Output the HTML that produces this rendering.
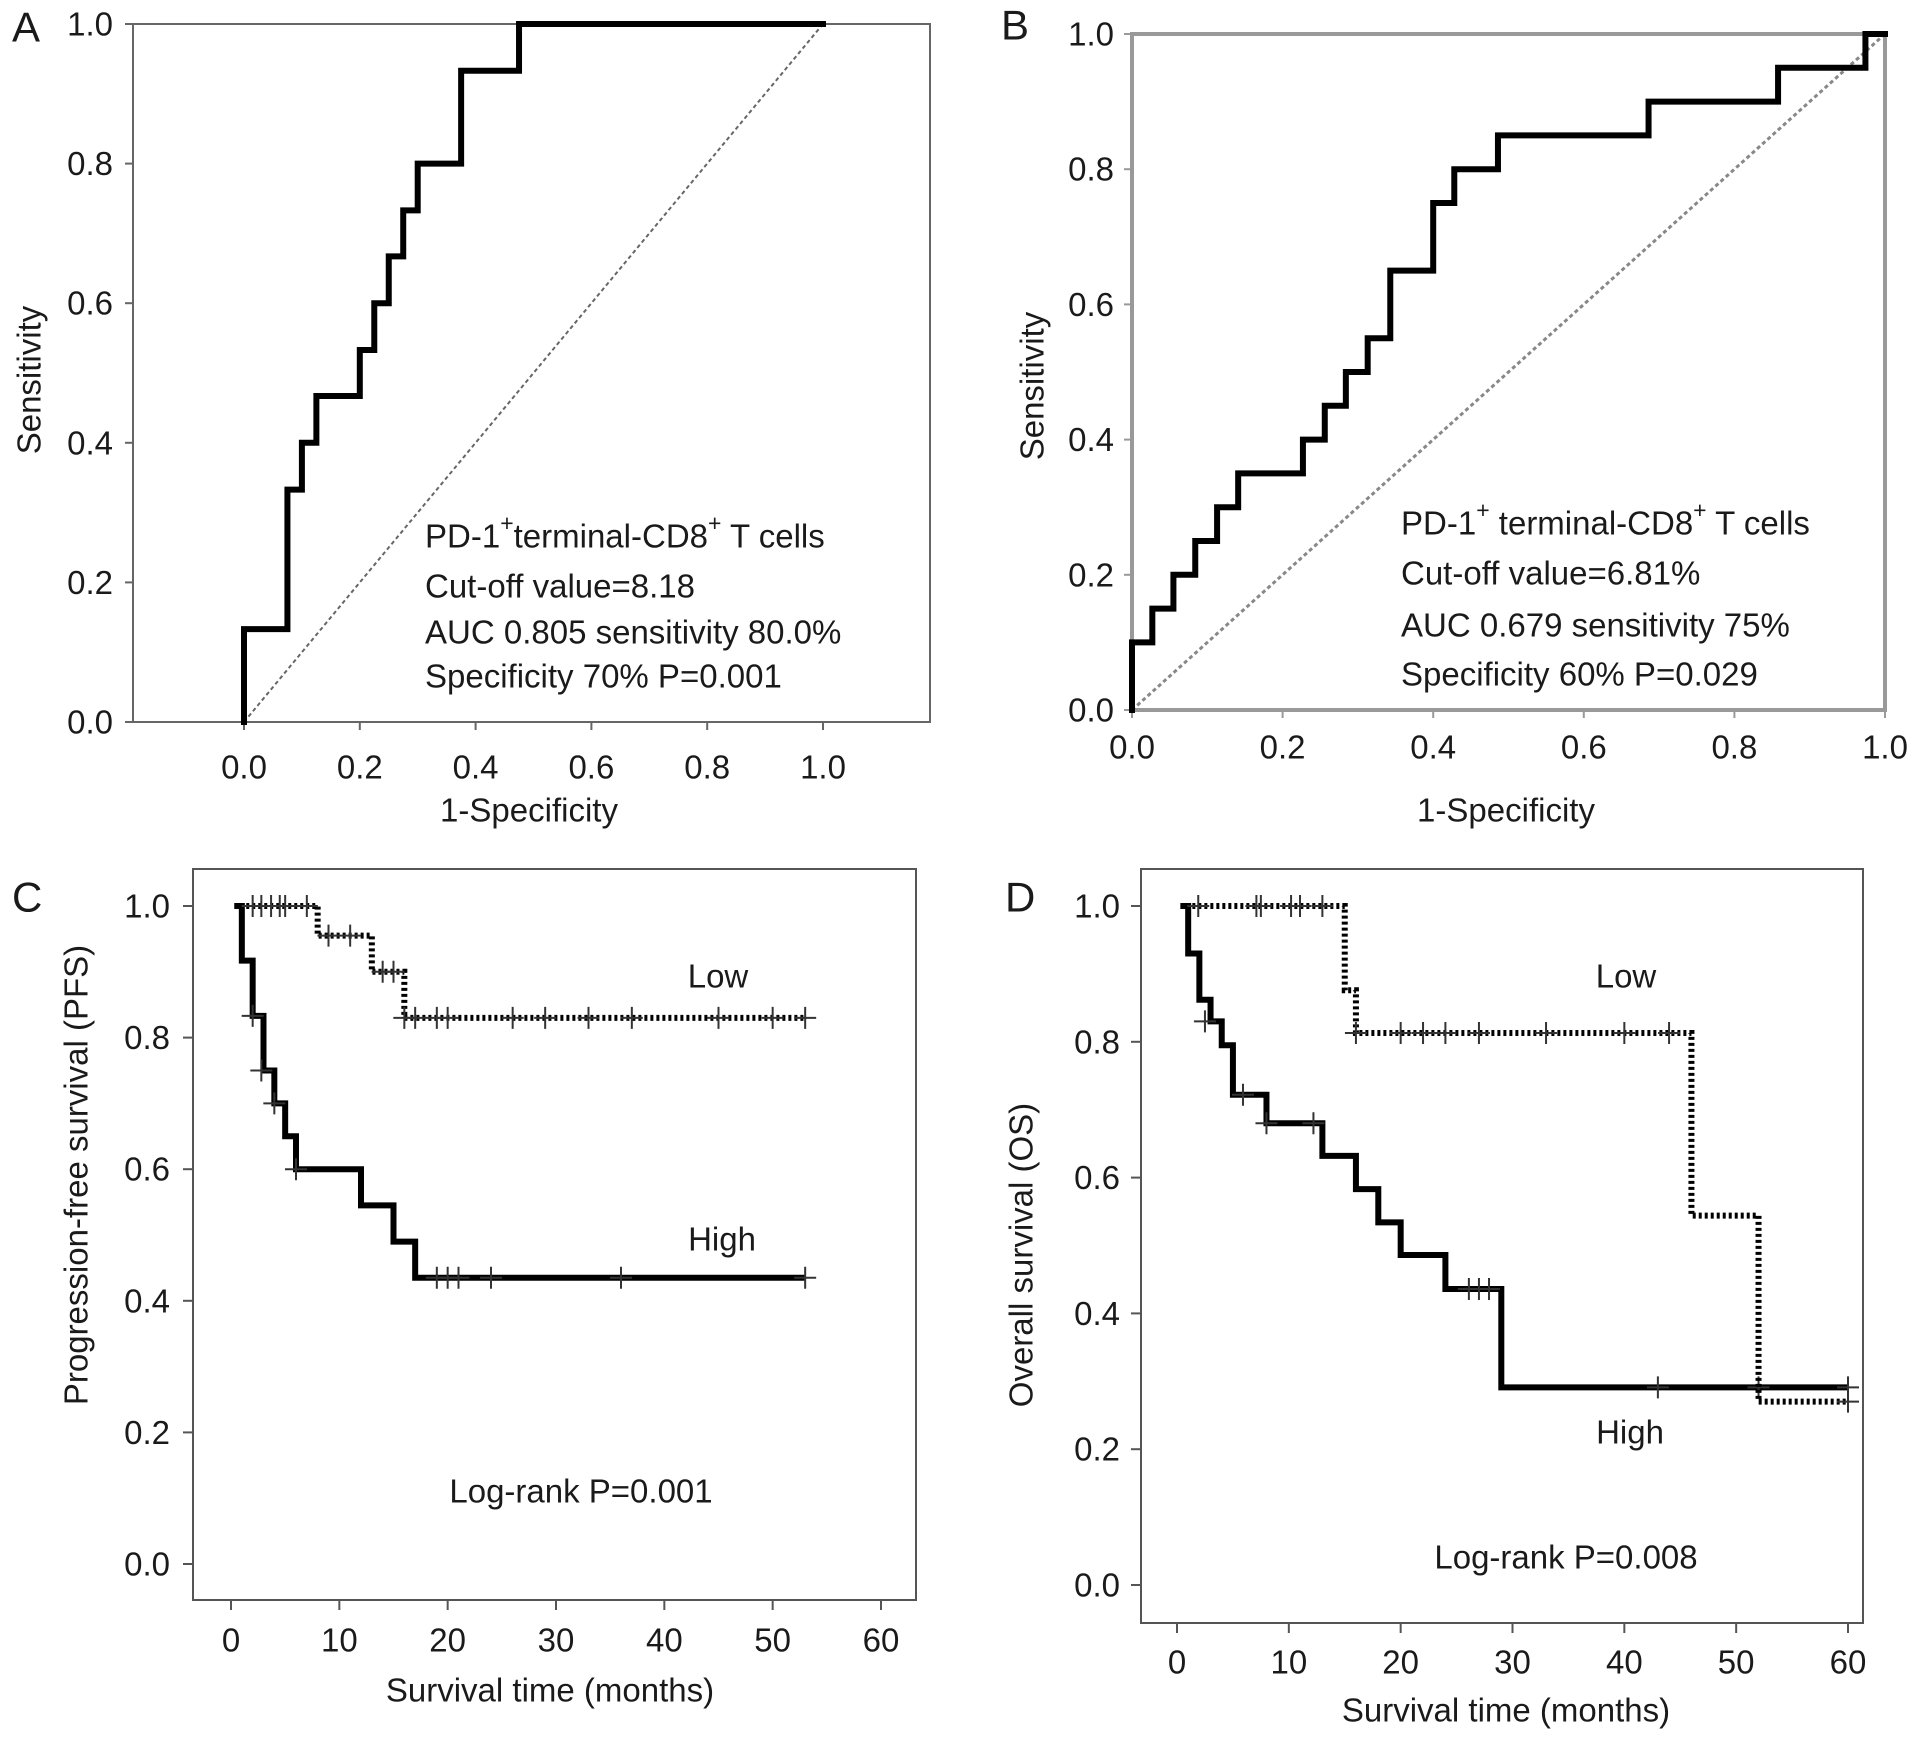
<!DOCTYPE html>
<html><head><meta charset="utf-8">
<style>
html,body{margin:0;padding:0;background:#fff;}
svg{display:block;font-family:"Liberation Sans",Arial,sans-serif;}
text{fill:#1a1a1a;}
</style></head>
<body>
<svg id="fig" width="1913" height="1738" viewBox="0 0 1913 1738"></svg>
<script>
// ---- Data ----
const rocA_fpr = [0,0,0.075,0.075,0.1,0.1,0.125,0.125,0.2,0.2,0.225,0.225,0.25,0.25,0.275,0.275,0.3,0.3,0.375,0.375,0.475,0.475,1.0];
const rocA_tpr = [0,0.133,0.133,0.333,0.333,0.4,0.4,0.467,0.467,0.533,0.533,0.6,0.6,0.667,0.667,0.733,0.733,0.8,0.8,0.933,0.933,1.0,1.0];
const rocB_fpr = [0,0,0.027,0.027,0.055,0.055,0.084,0.084,0.113,0.113,0.141,0.141,0.227,0.227,0.256,0.256,0.284,0.284,0.313,0.313,0.343,0.343,0.4,0.4,0.428,0.428,0.486,0.486,0.686,0.686,0.858,0.858,0.974,0.974,1.0];
const rocB_tpr = [0,0.1,0.1,0.15,0.15,0.2,0.2,0.25,0.25,0.3,0.3,0.35,0.35,0.4,0.4,0.45,0.45,0.5,0.5,0.55,0.55,0.65,0.65,0.75,0.75,0.8,0.8,0.85,0.85,0.9,0.9,0.95,0.95,1.0,1.0];
const rocTicks = [0,0.2,0.4,0.6,0.8,1.0];
const rocTickLabels = ["0.0","0.2","0.4","0.6","0.8","1.0"];

const pfsHigh_t = [0.5,1,2,3,4,5,6,12,15,17,53];
const pfsHigh_s = [1.0,0.917,0.833,0.75,0.70,0.65,0.60,0.545,0.49,0.435,0.435];
const pfsHigh_ct = [2,2.8,4,6,19,20,21,24,36,53];
const pfsHigh_cs = [0.833,0.75,0.70,0.60,0.435,0.435,0.435,0.435,0.435,0.435];
const pfsLow_t = [0.3,8,13,16,53];
const pfsLow_s = [1.0,0.955,0.90,0.83,0.83];
const pfsLow_ct = [2,2.8,3.7,4.5,5,7,9,11,14,15,16,17,19,20,26,29,33,37,45,50,53];
const pfsLow_cs = [1,1,1,1,1,1,0.955,0.955,0.90,0.90,0.83,0.83,0.83,0.83,0.83,0.83,0.83,0.83,0.83,0.83,0.83];

const osHigh_t = [0.5,1,2,3,4,5,8,13,16,18,20,24,29,60];
const osHigh_s = [1.0,0.93,0.862,0.83,0.795,0.722,0.68,0.632,0.583,0.534,0.486,0.436,0.291,0.291];
const osHigh_ct = [2.5,5.9,8,12.2,26.1,27,27.9,43,52,60];
const osHigh_cs = [0.83,0.722,0.68,0.68,0.436,0.436,0.436,0.291,0.291,0.291];
const osLow_t = [0.3,15,16,46,52,60];
const osLow_s = [1.0,0.876,0.813,0.544,0.27,0.27];
const osLow_ct = [1.9,7.1,7.5,10.2,11,13,16,20,22,24,27,33,40,44,60];
const osLow_cs = [1,1,1,1,1,1,0.813,0.813,0.813,0.813,0.813,0.813,0.813,0.813,0.27];
const kmXTicks = [0,10,20,30,40,50,60];
const kmYTicks = [0,0.2,0.4,0.6,0.8,1.0];
const kmYLabels = ["0.0","0.2","0.4","0.6","0.8","1.0"];

// ---- Helpers ----
const NS = "http://www.w3.org/2000/svg";
const svg = document.getElementById('fig');
const FS = 33;
function el(tag, attrs, parent){
  const e = document.createElementNS(NS, tag);
  for (const k in attrs) e.setAttribute(k, attrs[k]);
  (parent||svg).appendChild(e);
  return e;
}
function txt(x,y,s,size,anchor,name,parent,rot){
  const t = el('text',{x:x,y:y,'font-size':size,'text-anchor':anchor||'middle','dominant-baseline':'central'},parent);
  if(rot) t.setAttribute('transform','rotate(-90 '+x+' '+y+')');
  t.textContent = s;
  
  
  return t;
}
function scale(d0,d1,r0,r1){ return v => r0 + (v-d0)/(d1-d0)*(r1-r0); }
function stepPath(xs, ys, X, Y){
  let d = 'M'+X(xs[0])+','+Y(ys[0]);
  for(let i=1;i<xs.length;i++) d += ' L'+X(xs[i])+','+Y(ys[i]);
  return d;
}
function kmPath(ts, ss, X, Y){
  let d = 'M'+X(ts[0])+','+Y(ss[0]);
  for(let i=1;i<ts.length;i++){
    d += ' L'+X(ts[i])+','+Y(ss[i-1]) + ' L'+X(ts[i])+','+Y(ss[i]);
  }
  return d;
}

// ---- ROC panels ----
function rocPanel(id, box, xr, yr, fpr, tpr, boxStyle, info, labels){
  const g = el('g',{});
  
  
  const X = scale(0,1,xr[0],xr[1]), Y = scale(0,1,yr[0],yr[1]);
  const b = el('rect',{x:box[0],y:box[1],width:box[2]-box[0],height:box[3]-box[1],fill:'none',stroke:boxStyle.c,'stroke-width':boxStyle.w},g);
   
  rocTicks.forEach((v,i)=>{
    const tx = el('line',{x1:X(v),x2:X(v),y1:box[3],y2:box[3]+8,stroke:boxStyle.c,'stroke-width':2},g);
     
    txt(X(v), labels.xl, rocTickLabels[i], FS, 'middle', 'x-tick-label', g);
    const ty = el('line',{x1:box[0]-8,x2:box[0],y1:Y(v),y2:Y(v),stroke:boxStyle.c,'stroke-width':2},g);
     
    txt(labels.yx, Y(v), rocTickLabels[i], FS, 'end', 'y-tick-label', g);
  });
  const diag = el('line',{x1:X(0),y1:Y(0),x2:X(1),y2:Y(1),stroke:boxStyle.dc,'stroke-width':boxStyle.dw,'stroke-dasharray':'4,3'},g);
   
  const p = el('path',{d:stepPath(fpr,tpr,X,Y),fill:'none',stroke:'#000','stroke-width':6,'stroke-linejoin':'miter','stroke-linecap':'square'},g);
   
  txt(labels.xt[0], labels.xt[1], '1-Specificity', FS, 'middle', 'x-axis-title', g);
  txt(labels.yt[0], labels.yt[1], 'Sensitivity', FS, 'middle', 'y-axis-title', g, true);
  txt(labels.pl[0], labels.pl[1], id, 42, 'start', 'panel-label', g);
  info.lines.forEach((s,i)=>{
    const t = el('text',{x:info.x,y:info.ys[i],'font-size':FS,'dominant-baseline':'central'},g);
     
    t.innerHTML = s;
  });
}
rocPanel('A',[133,24,930,722],[244,823],[722,24],rocA_fpr,rocA_tpr,{c:'#666',w:2,dc:'#666',dw:2},
  {x:425,ys:[536,586,632,676],lines:['PD-1<tspan baseline-shift="super" font-size="23">+</tspan>terminal-CD8<tspan baseline-shift="super" font-size="23">+</tspan> T cells','Cut-off value=8.18','AUC 0.805 sensitivity 80.0%','Specificity 70% P=0.001']},
  {xl:767,yx:113,xt:[529,810],yt:[29,380],pl:[12,27]});
rocPanel('B',[1132,34,1885,710],[1132,1885],[710,34],rocB_fpr,rocB_tpr,{c:'#999',w:4,dc:'#888',dw:3},
  {x:1401,ys:[523,573,625,674],lines:['PD-1<tspan baseline-shift="super" font-size="23">+</tspan> terminal-CD8<tspan baseline-shift="super" font-size="23">+</tspan> T cells','Cut-off value=6.81%','AUC 0.679 sensitivity 75%','Specificity 60% P=0.029']},
  {xl:747,yx:1114,xt:[1506,810],yt:[1032,386],pl:[1001,25]});

// ---- KM panels ----
function kmPanel(id, box, xr, yr, ytitle, series, labels){
  const g = el('g',{});
  
  
  const X = scale(0,60,xr[0],xr[1]), Y = scale(0,1,yr[0],yr[1]);
  const b = el('rect',{x:box[0],y:box[1],width:box[2]-box[0],height:box[3]-box[1],fill:'none',stroke:'#555','stroke-width':2},g);
   
  kmXTicks.forEach(v=>{
    const tl = el('line',{x1:X(v),x2:X(v),y1:box[3],y2:box[3]+10,stroke:'#555','stroke-width':2},g);
     
    txt(X(v), labels.xl, String(v), FS, 'middle', 'x-tick-label', g);
  });
  kmYTicks.forEach((v,i)=>{
    const tl = el('line',{x1:box[0]-10,x2:box[0],y1:Y(v),y2:Y(v),stroke:'#555','stroke-width':2},g);
     
    txt(labels.yx, Y(v), kmYLabels[i], FS, 'end', 'y-tick-label', g);
  });
  series.forEach(s=>{
    const p = el('path',{d:kmPath(s.t,s.s,X,Y),fill:'none',stroke:'#000','stroke-width':6,'stroke-dasharray':s.dash?'3,3':'none'},g);
     
    s.ct.forEach((t,i)=>{
      const cx = X(t), cy = Y(s.cs[i]);
      const c = el('path',{d:'M'+(cx-11)+','+cy+' L'+(cx+11)+','+cy+' M'+cx+','+(cy-11)+' L'+cx+','+(cy+11),stroke:'#333','stroke-width':2},g);
       
    });
  });
  txt(labels.xt[0], labels.xt[1], 'Survival time (months)', FS, 'middle', 'x-axis-title', g);
  txt(labels.yt[0], labels.yt[1], ytitle, FS, 'middle', 'y-axis-title', g, true);
  txt(labels.pl[0], labels.pl[1], id, 42, 'start', 'panel-label', g);
  txt(labels.low[0], labels.low[1], 'Low', FS, 'middle', 'low-group-label', g);
  txt(labels.high[0], labels.high[1], 'High', FS, 'middle', 'high-group-label', g);
  txt(labels.lr[0], labels.lr[1], labels.lrText, FS, 'middle', 'log-rank-annotation', g);
}
kmPanel('C',[193,869,916,1600],[231,881],[1564,906],'Progression-free survival (PFS)',
  [{name:'high',t:pfsHigh_t,s:pfsHigh_s,ct:pfsHigh_ct,cs:pfsHigh_cs,dash:false},
   {name:'low',t:pfsLow_t,s:pfsLow_s,ct:pfsLow_ct,cs:pfsLow_cs,dash:true}],
  {xl:1640,yx:170,xt:[550,1690],yt:[76,1175],pl:[12,897],low:[718,976],high:[722,1239],lr:[581,1491],lrText:'Log-rank P=0.001'});
kmPanel('D',[1141,869,1863,1623],[1177,1848],[1585,906],'Overall survival (OS)',
  [{name:'high',t:osHigh_t,s:osHigh_s,ct:osHigh_ct,cs:osHigh_cs,dash:false},
   {name:'low',t:osLow_t,s:osLow_s,ct:osLow_ct,cs:osLow_cs,dash:true}],
  {xl:1662,yx:1120,xt:[1506,1710],yt:[1021,1255],pl:[1005,897],low:[1626,976],high:[1630,1432],lr:[1566,1557],lrText:'Log-rank P=0.008'});
</script>
</body></html>
